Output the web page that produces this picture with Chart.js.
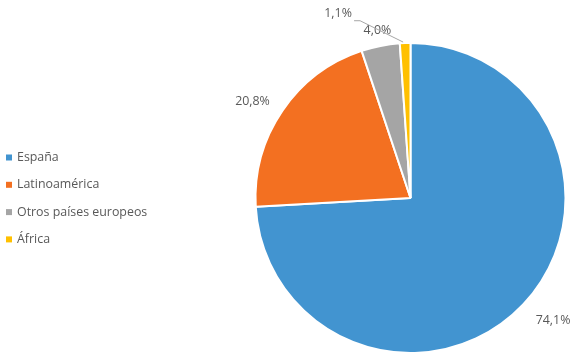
<!DOCTYPE html>
<html>
<head>
<meta charset="utf-8">
<script src="https://cdn.jsdelivr.net/npm/chart.js"></script>
<style>
  html, body { margin: 0; padding: 0; background: #fff; }
  #wrap { width: 570px; height: 355px; }
</style>
</head>
<body>
<div id="wrap"><canvas id="myChart"></canvas></div>
<script>
var regiones = ["España", "Latinoamérica", "Otros países europeos", "África"];
var porcentajes = [74.1, 20.8, 4.0, 1.1];
var colores = ["#4294d0", "#f37021", "#a5a5a5", "#ffc000"];

var textColor = "#595959";
var fontFamily = "'Open Sans', sans-serif";

// leyenda dibujada a mano a la izquierda
var leftLegend = {
  id: "leftLegend",
  afterDraw(chart) {
    var ctx = chart.ctx;
    ctx.save();
    ctx.font = "12.4px " + fontFamily;
    ctx.textBaseline = "middle";
    regiones.forEach((name, i) => {
      var y = 157.5 + i * 27.3;
      ctx.fillStyle = colores[i];
      ctx.fillRect(6, y - 3, 6, 6);
      ctx.fillStyle = textColor;
      ctx.fillText(name, 17, y);
    });
    ctx.restore();
  }
};

// etiquetas de porcentaje fuera del pastel
var outLabels = {
  id: "outLabels",
  afterDatasetsDraw(chart, args, opts) {
    var ctx = chart.ctx;
    var arcs = chart.getDatasetMeta(0).data;
    ctx.save();
    ctx.font = "12.4px " + fontFamily;
    ctx.fillStyle = textColor;
    ctx.textAlign = "center";
    ctx.textBaseline = "middle";
    arcs.forEach((arc, i) => {
      var mid = (arc.startAngle + arc.endAngle) / 2 + (opts.shift[i] || 0);
      var r = arc.outerRadius + opts.dist[i];
      var x = arc.x + Math.cos(mid) * r;
      var y = arc.y + Math.sin(mid) * r;
      var txt = porcentajes[i].toFixed(1).replace(".", ",") + "%";
      ctx.fillText(txt, x, y);
      if (opts.leader[i]) {
        var a = (arc.startAngle + arc.endAngle) / 2;
        var ex = arc.x + Math.cos(a) * arc.outerRadius;
        var ey = arc.y + Math.sin(a) * arc.outerRadius;
        ctx.strokeStyle = "#a6a6a6";
        ctx.lineWidth = 1;
        ctx.beginPath();
        ctx.moveTo(x + 16, y + 7);
        ctx.lineTo(x + 22, y + 7);
        ctx.lineTo(ex - 2, ey - 1);
        ctx.stroke();
      }
    });
    ctx.restore();
  }
};

new Chart(document.getElementById("myChart"), {
  type: "pie",
  data: {
    labels: regiones,
    datasets: [{
      data: porcentajes,
      backgroundColor: colores,
      borderColor: "#ffffff",
      borderWidth: 2,
      hoverOffset: 0
    }]
  },
  options: {
    responsive: true,
    maintainAspectRatio: false,
    animation: false,
    layout: { padding: { left: 254, right: 3, top: 42, bottom: 1 } },
    plugins: {
      legend: { display: false },
      tooltip: { enabled: false },
      outLabels: {
        dist: [33, 30, 16, 43],
        shift: [-0.047, -0.05, 0, -0.34],
        leader: [false, false, false, true]
      }
    }
  },
  plugins: [leftLegend, outLabels]
});
</script>
</body>
</html>
